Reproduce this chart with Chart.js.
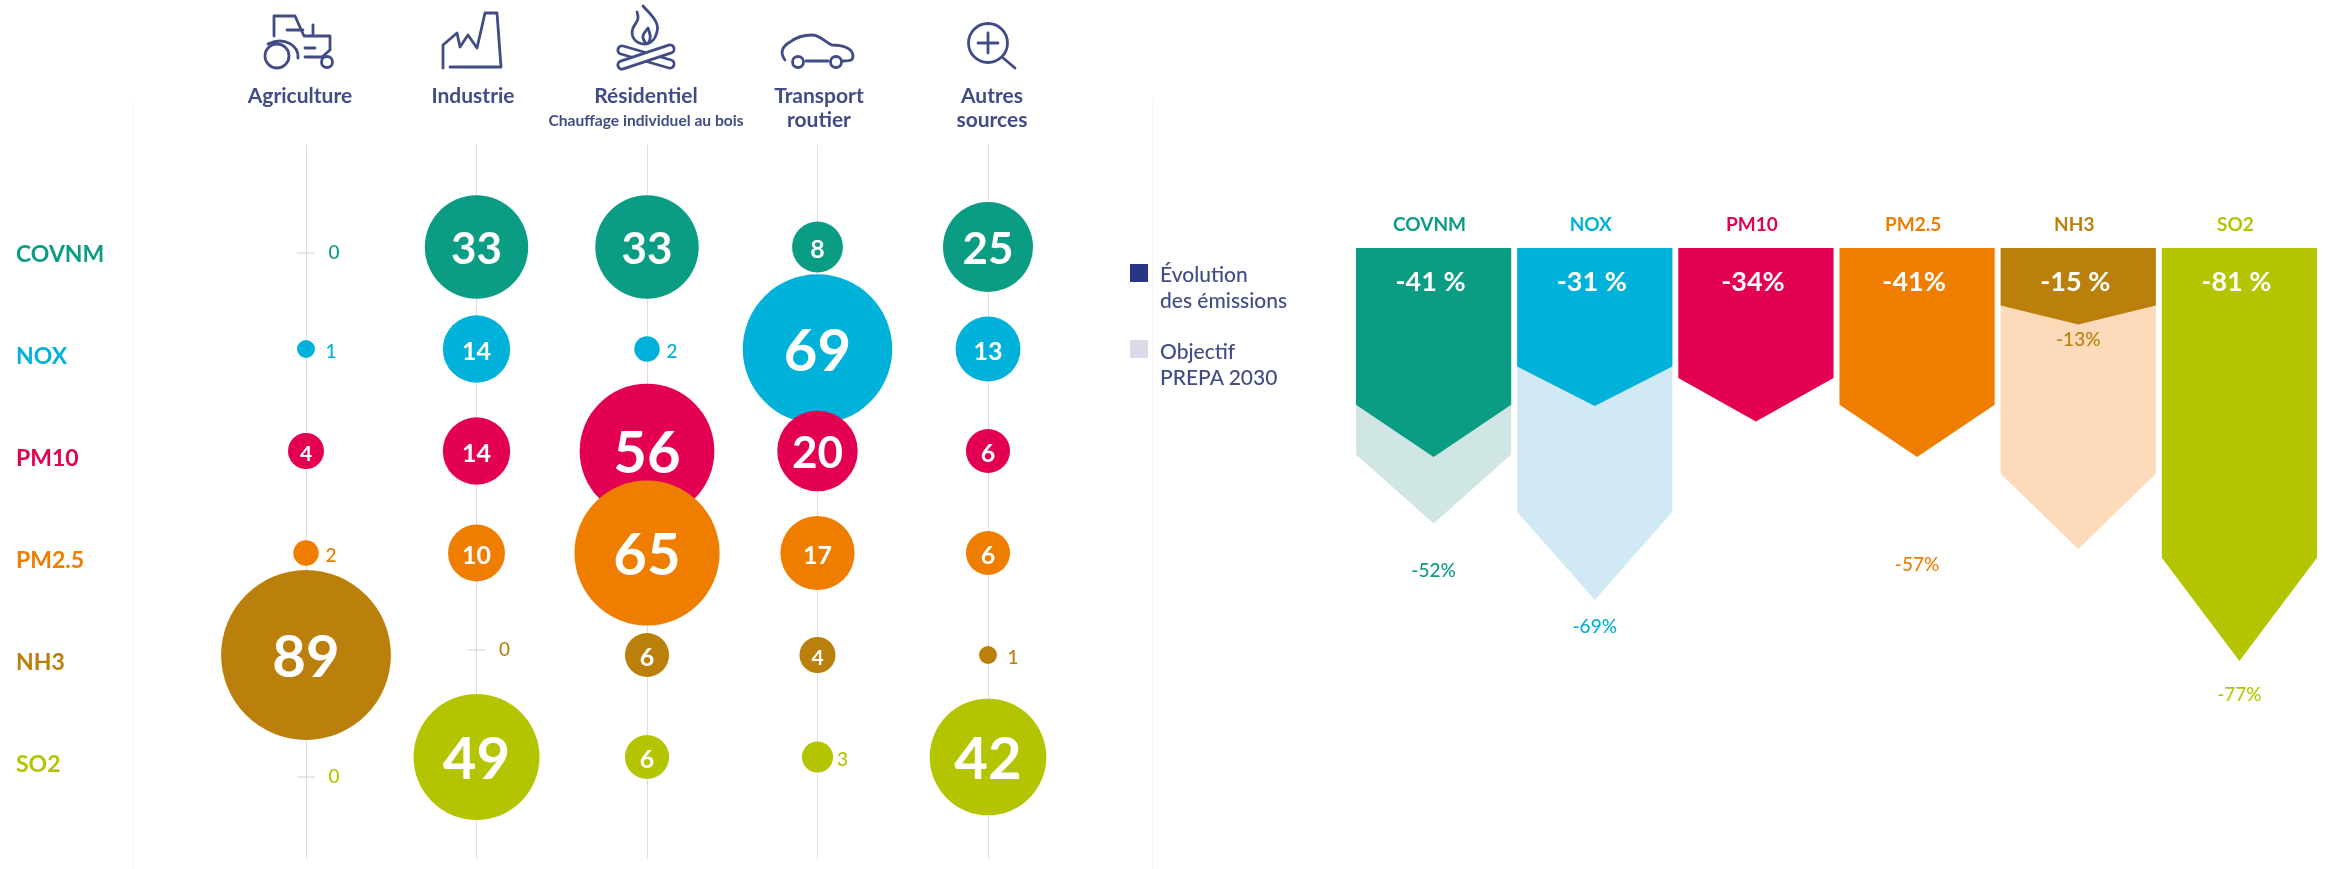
<!DOCTYPE html>
<html lang="fr">
<head>
<meta charset="utf-8">
<title>Émissions par secteur et évolution</title>
<script src="https://cdn.jsdelivr.net/npm/chart.js@4"></script>
<style>
  html, body { margin: 0; background: #fff; }
  #page { position: relative; width: 2326px; height: 869px; overflow: hidden; font-family: Lato, "Noto Sans", sans-serif; }
  #left-wrap { position: absolute; left: 0; top: 0; width: 1160px; height: 869px; }
  #right-wrap { position: absolute; left: 1300px; top: 0; width: 1026px; height: 869px; }
  #icons { position: absolute; left: 0; top: 0; }
  .frame { position: absolute; top: 100px; bottom: 0; width: 1px; background: #f6f6f6; }
  .key { position: absolute; left: 1130px; width: 18px; height: 18px; }
  .key-text { position: absolute; left: 1160px; font-size: 21px; line-height: 26px; color: #414c85; font-weight: 500; white-space: nowrap; }
</style>
</head>
<body>
<div id="page">
  <div class="frame" style="left:133px"></div>
  <div class="frame" style="left:1152px"></div>
  <div id="left-wrap"><canvas id="bubbles"></canvas></div>
  <div id="right-wrap"><canvas id="arrows"></canvas></div>
  <svg id="icons" width="1160" height="80" fill="none" stroke="#414c85" stroke-width="2.8" stroke-linejoin="round" stroke-linecap="round">
    <path d="M274 36V16H295L304 36H330V50L322 57H305M313 25V36M287 30H303M305 48H315M268 44C285 36 299 46 298 58"/>
    <circle cx="277" cy="56" r="12"/><circle cx="327" cy="62" r="5.5"/>
    <path d="M443 68V45L457 33L460 47L468 35L477 48L485 13H497L501 67H450"/>
    <path d="M643 6C650 14 660 22 657 32C655 40 650 44 645 44C635 44 630 36 633 28C636 22 640 20 637 12M645 42C640 36 645 32 648 28C650 34 652 38 648 43"/>
    <path d="M622 50L670 64" stroke-width="11"/><path d="M622 50L670 64" stroke="#fff" stroke-width="5.5"/>
    <path d="M670 49L622 65" stroke-width="11"/><path d="M670 49L622 65" stroke="#fff" stroke-width="5.5"/>
    <path d="M785 60C779 52 783 46 790 42C798 36 805 35 812 35C820 35 825 42 832 45C842 45 853 48 853 56C853 60 851 61 843 61M806 61H828"/>
    <circle cx="798" cy="62" r="5.5"/><circle cx="836" cy="62" r="5.5"/>
    <circle cx="988" cy="43" r="19.5"/><path d="M988 33V53M978 43H998M1002 57L1015 68"/>
  </svg>
  <div class="key" style="top:264px;background:#2a3586"></div>
  <div class="key-text" style="top:261px">Évolution<br>des émissions</div>
  <div class="key" style="top:340px;background:#d9d9e8"></div>
  <div class="key-text" style="top:338px">Objectif<br>PREPA 2030</div>
</div>

<script>
const FONT = 'Lato, "Noto Sans", sans-serif';

// left chart: share of emissions per sector
const sectors = ["Agriculture", "Industrie", "Résidentiel", "Transport routier", "Autres sources"];
const pollutants = ["COVNM", "NOX", "PM10", "PM2.5", "NH3", "SO2"];
const covnm = [0, 33, 33, 8, 25];
const nox = [1, 14, 2, 69, 13];
const pm10 = [4, 14, 56, 20, 6];
const pm25 = [2, 10, 65, 17, 6];
const nh3 = [89, 0, 6, 4, 1];
const so2 = [0, 49, 6, 3, 42];
const rows = [covnm, nox, pm10, pm25, nh3, so2];

// right chart: evolution and PREPA 2030 target
const evolution = [-41, -31, -34, -41, -15, -81];
const evolutionLabels = ["-41 %", "-31 %", "-34%", "-41%", "-15 %", "-81 %"];
const objectifs = [-52, -69, null, -57, -13, -77];
// the pale arrows do not always follow the printed target, this is their drawn depth
const objectifDepth = [-54, -69, null, null, -59, null];

const colors = ["#0b9c84", "#00b1d9", "#e30052", "#ef7d00", "#bb7f0c", "#b5c400"];
const paleColors = ["#cfe6e4", "#d0e9f5", null, null, "#fddab9", null];

// how far the target text sits under its value
const targetDrop = [58, 27, 0, 26, 26, 54];
// the "0" marks are not quite on their row in the original
const zeroShift = { "0:0": 6, "4:1": -5, "5:0": 20 };

function bubbleFont(v) {
  if (v >= 40) return 58;
  if (v >= 20) return 44;
  if (v >= 6) return 25;
  return 21;
}

const bubbleLabels = {
  id: "bubbleLabels",
  afterDatasetsDraw(chart) {
    const { ctx } = chart;
    ctx.save();
    ctx.textBaseline = "middle";
    rows.forEach((row, r) => {
      const meta = chart.getDatasetMeta(r);
      row.forEach((v, c) => {
        const el = meta.data[c];
        if (v >= 4) {
          ctx.fillStyle = "#fff";
          ctx.textAlign = "center";
          ctx.font = `700 ${bubbleFont(v)}px ${FONT}`;
          ctx.fillText(v, el.x, el.y + 3);
          return;
        }
        let y = el.y + 3;
        if (v === 0) {
          y = el.y + (zeroShift[r + ":" + c] || 0);
          ctx.strokeStyle = "#cfcfd8";
          ctx.lineWidth = 1;
          ctx.beginPath();
          ctx.moveTo(el.x - 9, y);
          ctx.lineTo(el.x + 9, y);
          ctx.stroke();
        }
        ctx.fillStyle = colors[r];
        ctx.textAlign = "center";
        ctx.font = `500 19px ${FONT}`;
        ctx.fillText(v, el.x + (v === 0 ? 28 : 25), y);
      });
    });
    // second line under Résidentiel, smaller than the axis font
    const top = chart.scales.xTop;
    ctx.fillStyle = "#414c85";
    ctx.font = `700 15.6px ${FONT}`;
    ctx.textAlign = "center";
    ctx.fillText("Chauffage individuel au bois", top.getPixelForValue(2), 121);
    ctx.restore();
  },
};

new Chart(document.getElementById("bubbles"), {
  type: "bubble",
  data: {
    datasets: rows.map((row, r) => ({
      label: pollutants[r],
      data: row.map((v, c) => ({ x: sectors[c], y: r, r: Math.sqrt(v) * 9 })),
      backgroundColor: colors[r],
      borderWidth: 0,
      clip: false,
      order: -r,
    })),
  },
  options: {
    responsive: true,
    maintainAspectRatio: false,
    animation: false,
    events: [],
    // big bubbles must not shrink the plot area
    layout: { autoPadding: false, padding: { left: 16, right: 86.75, top: 0, bottom: 0 } },
    plugins: { legend: { display: false }, tooltip: { enabled: false } },
    scales: {
      x: {
        type: "category",
        labels: sectors,
        position: "bottom",
        offset: true,
        border: { display: false },
        grid: { color: "#dcdce6", drawTicks: false },
        ticks: { display: false },
        afterFit: (s) => { s.height = 10; },
      },
      // headings sit a little wider apart than the columns
      xTop: {
        type: "linear",
        axis: "x",
        position: "top",
        min: -0.458,
        max: 4.47,
        border: { display: false },
        grid: { display: false, drawTicks: false },
        afterBuildTicks: (s) => { s.ticks = sectors.map((_, i) => ({ value: i })); },
        afterFit: (s) => { s.height = 145; },
        ticks: {
          autoSkip: false,
          maxRotation: 0,
          crossAlign: "far",
          padding: 13,
          color: "#414c85",
          font: { family: FONT, size: 21, weight: "700", lineHeight: 1.15 },
          callback: (v) => sectors[v].split(" "),
        },
      },
      y: {
        type: "linear",
        reverse: true,
        min: -1,
        max: 6,
        border: { display: false },
        grid: { display: false, drawTicks: false },
        afterFit: (s) => {
          s.width = 204.75;
          s.paddingTop = 0;
          s.paddingBottom = 0;
        },
        ticks: {
          stepSize: 1,
          autoSkip: false,
          crossAlign: "far",
          labelOffset: 8,
          font: { family: FONT, size: 23, weight: "700" },
          color: (c) => colors[c.tick.value] || "#000",
          callback: (v) => pollutants[v] || "",
        },
      },
    },
  },
  plugins: [bubbleLabels],
});

// bar with a pointed end, tip length is a quarter of the bar
class ArrowBar extends Chart.BarElement {
  draw(ctx) {
    const { x, y, base, width, options } = this;
    const half = width / 2;
    const shoulder = y - (y - base) * 0.25;
    ctx.save();
    ctx.fillStyle = options.backgroundColor;
    ctx.beginPath();
    ctx.moveTo(x - half, base);
    ctx.lineTo(x + half, base);
    ctx.lineTo(x + half, shoulder);
    ctx.lineTo(x, y);
    ctx.lineTo(x - half, shoulder);
    ctx.closePath();
    ctx.fill();
    ctx.restore();
  }
}
ArrowBar.id = "arrowBar";
ArrowBar.defaults = Chart.BarElement.defaults;

class ArrowController extends Chart.BarController {}
ArrowController.id = "arrowBarChart";
ArrowController.defaults = { dataElementType: "arrowBar" };
Chart.register(ArrowBar, ArrowController);

const arrowLabels = {
  id: "arrowLabels",
  afterDatasetsDraw(chart) {
    const { ctx, scales } = chart;
    ctx.save();
    ctx.textAlign = "center";
    ctx.textBaseline = "middle";
    pollutants.forEach((p, i) => {
      const x = scales.x.getPixelForValue(i);
      ctx.fillStyle = "#fff";
      ctx.font = `700 27px ${FONT}`;
      ctx.fillText(evolutionLabels[i], x - 3, scales.y.getPixelForValue(0) + 34);
      if (objectifs[i] !== null) {
        ctx.fillStyle = colors[i];
        ctx.font = `500 19px ${FONT}`;
        ctx.fillText(objectifs[i] + "%", x, scales.y.getPixelForValue(objectifs[i]) + targetDrop[i]);
      }
    });
    ctx.restore();
  },
};

new Chart(document.getElementById("arrows"), {
  type: "arrowBarChart",
  data: {
    labels: pollutants,
    datasets: [
      {
        label: "Évolution des émissions",
        data: evolution,
        backgroundColor: colors,
        grouped: false,
        order: 0,
      },
      {
        label: "Objectif PREPA 2030",
        data: objectifDepth,
        backgroundColor: paleColors,
        grouped: false,
        order: 1,
      },
    ],
  },
  options: {
    responsive: true,
    maintainAspectRatio: false,
    animation: false,
    events: [],
    barPercentage: 0.963,
    categoryPercentage: 1,
    layout: { padding: { left: 53, right: 6, top: 0, bottom: 162 } },
    plugins: { legend: { display: false }, tooltip: { enabled: false } },
    scales: {
      x: {
        type: "category",
        position: "top",
        offset: true,
        border: { display: false },
        grid: { display: false, drawTicks: false },
        afterFit: (s) => { s.height = 248; },
        ticks: {
          maxRotation: 0,
          padding: 12,
          labelOffset: -4,
          font: { family: FONT, size: 19, weight: "700" },
          color: (c) => colors[c.index],
        },
      },
      y: { type: "linear", display: false, min: -90, max: 0 },
    },
  },
  plugins: [arrowLabels],
});
</script>
</body>
</html>
